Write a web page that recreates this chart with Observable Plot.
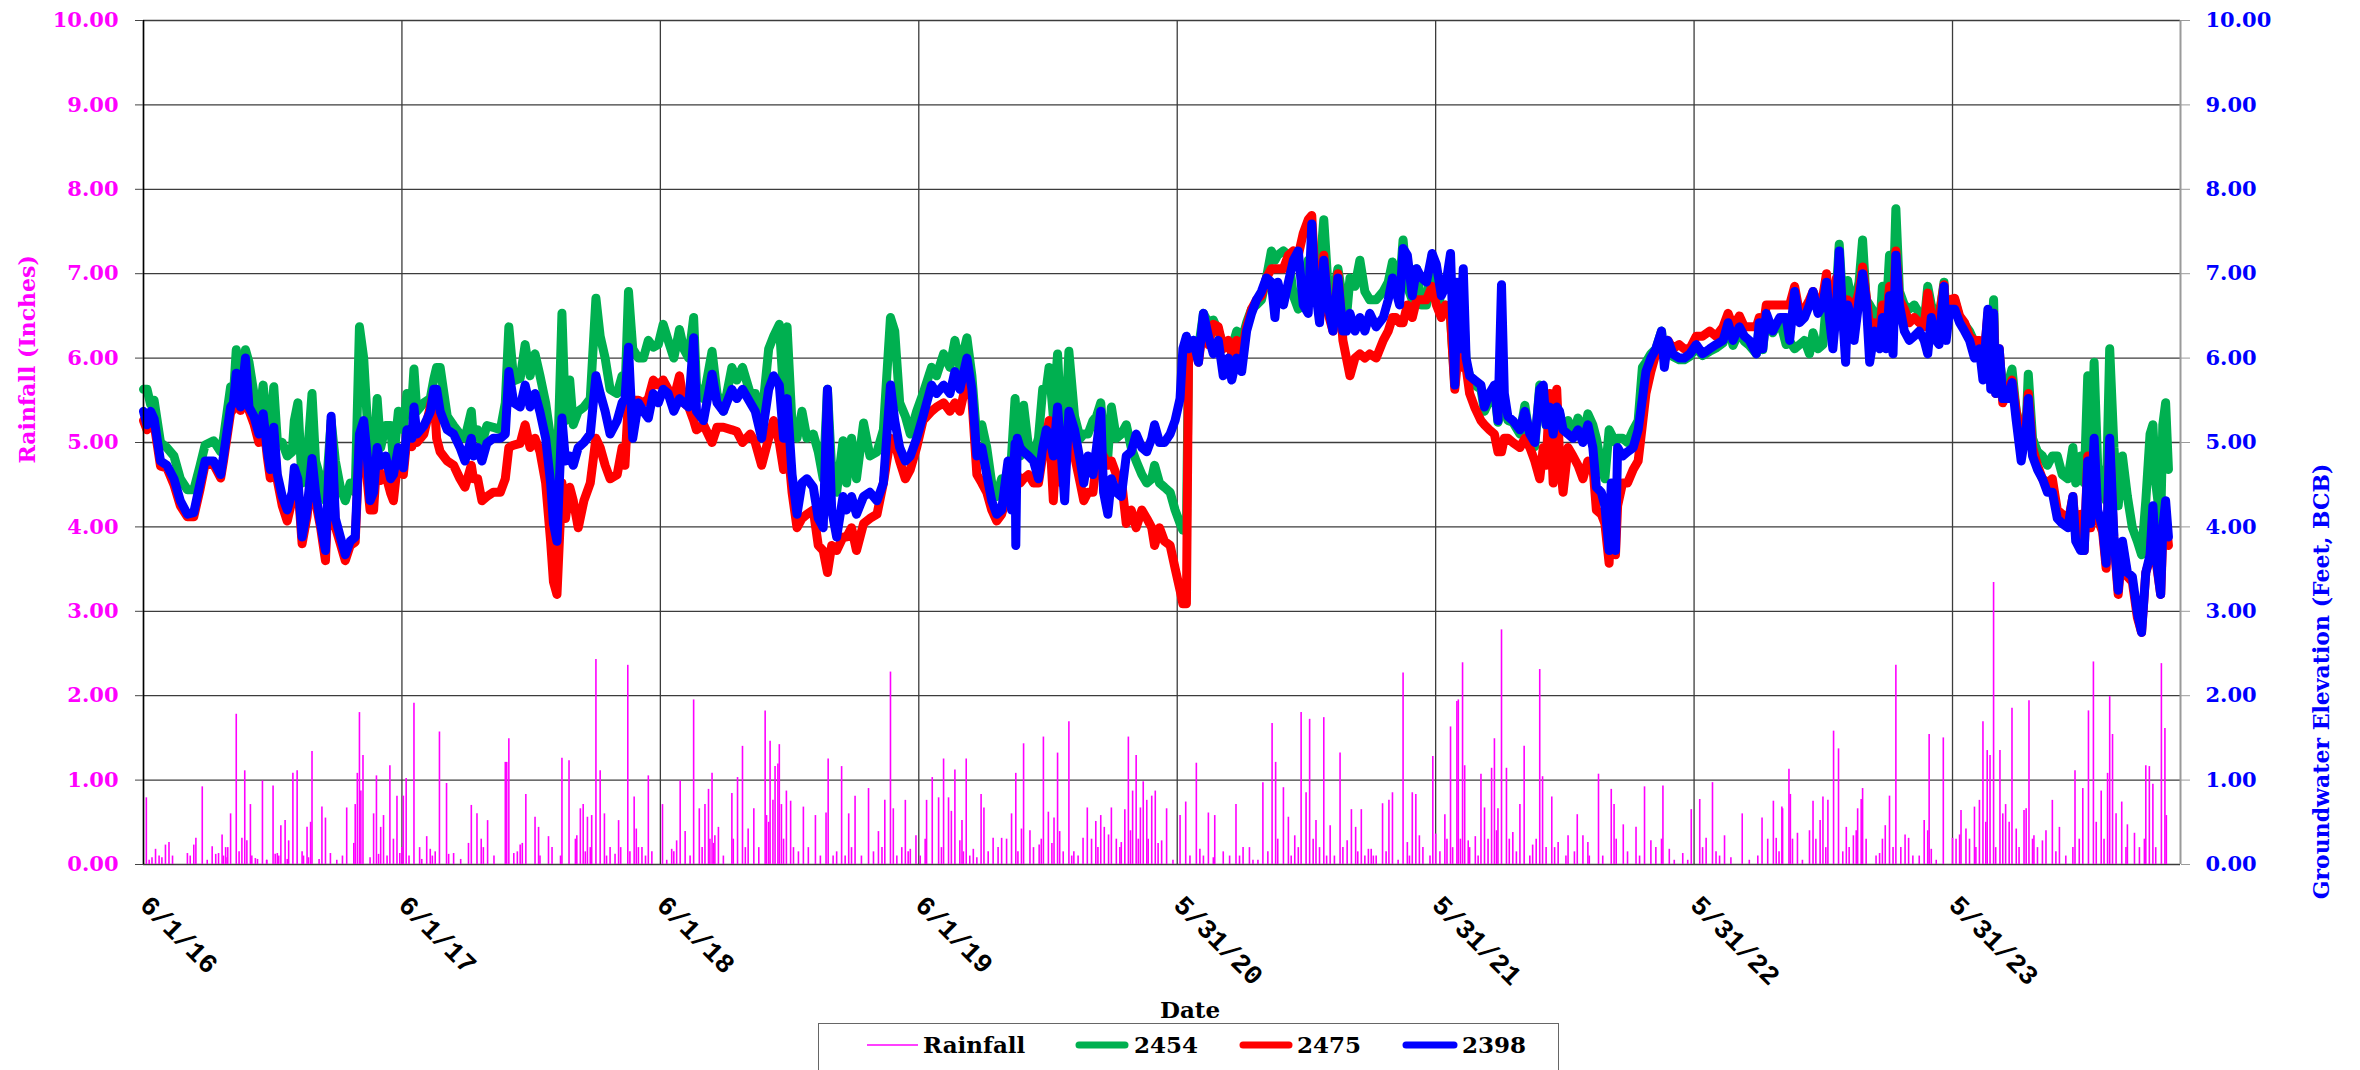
<!DOCTYPE html>
<html>
<head>
<meta charset="utf-8">
<script src="https://cdn.jsdelivr.net/npm/d3@7"></script>
<script src="https://cdn.jsdelivr.net/npm/@observablehq/plot@0.6"></script>
<style>
html,body{margin:0;padding:0;background:#fff;}
#wrap{position:relative;width:2360px;height:1070px;overflow:hidden;background:#fff;}
#chart{position:absolute;left:0;top:0;}
#xlabel{position:absolute;left:1130px;width:120px;top:998px;line-height:24px;text-align:center;font-family:"DejaVu Serif";font-weight:bold;font-size:23px;color:#000;}
#legend{position:absolute;left:818px;top:1023px;width:741px;height:50px;box-sizing:border-box;border:1.5px solid #666;background:#fff;}
#legend svg{position:absolute;left:0;top:0;}
#err{position:absolute;left:10px;top:10px;color:red;font:16px monospace;}
</style>
</head>
<body>
<div id="wrap">
  <div id="chart"></div>
  <div id="xlabel">Date</div>
  <div id="legend"></div>
  <div id="err"></div>
</div>
<script>
// ---------- DATA ----------
const startDate = "2016-06-01";           // day 0 of the record
const axisEndDay = 2877;                   // right edge of the date axis (days after start)
const xTickDays = [0, 365, 730, 1095, 1460, 1825, 2190, 2555];
const xTickLabels = ["6/1/16", "6/1/17", "6/1/18", "6/1/19", "5/31/20", "5/31/21", "5/31/22", "5/31/23"];
const yTicks = [0, 1, 2, 3, 4, 5, 6, 7, 8, 9, 10];

const seriesNames = ["2454", "2475", "2398"];
const seriesColors = ["#00b050", "#ff0000", "#0000ff"];

// groundwater sample days (days after startDate)
const gwDays = [
 0,5,10,15,24,33,43,52,62,71,80,87,99,109,113,123,127,131,137,144,149,156,163,169,175,179,184,189,196,203,210,213,218,224,231,238,243,250,257,265,271,278,285,292,299,305,311,316,320,325,330,335,342,349,353,360,367,372,379,382,386,396,405,410,414,419,429,438,447,454,463,466,472,478,485,494,504,511,516,523,532,539,546,553,560,568,575,579,
 584,591,596,602,607,614,622,631,639,645,652,659,669,676,680,685,691,699,706,713,720,727,734,741,749,757,763,770,777,781,791,803,810,819,831,838,846,857,864,873,883,890,898,904,909,916,923,930,937,946,953,960,966,972,979,988,993,1000,1007,1017,1026,1036,1045,1055,1061,1068,1076,1083,1092,1101,1113,1120,1130,1139,1146,1153,
 1163,1170,1177,1184,1191,1198,1205,1212,1221,1226,1231,1232,1234,1238,1243,1250,1257,1264,1270,1275,1279,1285,1291,1297,1301,1307,1315,1323,1328,1334,1341,1346,1352,1356,1362,1367,1374,1381,1388,1395,1402,1410,1417,1424,1428,1435,1442,1450,1457,1464,1468,1473,1476,1483,1490,1497,1504,1511,1518,1525,1532,1537,1544,1551,1558,1565,1572,1579,1586,1593,1598,1602,1610,1617,1624,1631,1638,1645,1650,1654,1661,1667,1673,1680,1687,1694,1699,1704,1711,1718,1725,1732,
 1741,1751,1758,1764,1769,1774,1779,1785,1792,1798,1805,1812,1820,1826,1833,1839,1846,1852,1855,1859,1864,1868,1873,1880,1889,1894,1901,1908,1913,1918,1922,1927,1934,1944,1951,1958,1965,1972,1977,1981,1986,1991,1996,2000,2005,2012,2019,2026,2033,2040,2047,2052,2059,2064,2070,2073,2079,2082,2089,2096,2104,2111,2117,2122,2129,2136,2144,2148,2153,2160,2169,2176,2184,2193,2202,2212,2221,2231,2238,2245,2254,2261,2268,2278,2282,2287,2292,2301,2311,
 2320,2325,2332,2339,2346,2353,2358,2365,2372,2377,2381,2386,2391,2395,2400,2404,2407,2412,2416,2423,2428,2433,2438,2445,2452,2456,2461,2466,2471,2475,2480,2487,2494,2501,2508,2515,2520,2525,2532,2536,2543,2546,2551,2558,2565,2572,2579,2586,2593,2598,2605,2609,2613,2616,2621,2626,2633,2639,2645,2652,2659,2662,2668,2675,2682,2689,2696,2703,2710,2718,2725,2729,2736,2741,2746,2750,2755,2760,2767,2772,2777,2783,2789,2795,2802,2809,2816,2822,2828,2834,2838,2842,2849,2852,2856,2860
];

// well 2454 (green)
const gw2454 = [
 5.63,5.63,5.45,5.50,5.00,4.94,4.84,4.57,4.44,4.44,4.73,4.97,5.02,4.89,5.05,5.66,5.55,6.10,5.50,6.10,5.95,5.58,5.26,5.68,5.15,5.10,5.66,5.02,5.00,4.84,4.89,5.26,5.47,4.52,4.78,5.58,4.78,4.57,4.31,5.26,4.78,4.47,4.31,4.52,4.41,6.37,6.00,5.26,4.73,4.78,5.52,4.94,5.20,5.20,4.78,5.37,5.15,5.58,5.47,5.87,5.37,5.47,5.52,5.75,5.89,5.89,5.31,5.20,5.10,5.05,5.37,5.05,5.15,4.99,5.20,5.18,5.15,5.47,6.37,5.73,5.76,6.16,5.79,6.05,5.79,5.47,5.05,4.78,
 4.52,6.53,5.26,5.74,5.21,5.37,5.42,5.52,6.71,6.26,6.00,5.63,5.58,5.79,5.58,6.79,6.11,6.00,6.00,6.21,6.13,6.16,6.40,6.21,6.00,6.34,6.11,6.00,6.48,5.68,5.52,6.08,5.58,5.37,5.89,5.74,5.89,5.58,5.58,5.26,6.11,6.26,6.40,5.58,6.37,5.21,5.05,5.37,5.05,5.10,4.89,4.57,5.63,4.68,4.41,5.02,4.52,5.05,4.57,5.23,4.84,4.89,5.15,6.48,6.32,5.47,5.31,5.10,5.37,5.58,5.89,5.79,6.05,5.89,6.21,5.89,
 6.24,5.79,5.05,5.21,4.94,4.52,4.36,4.57,4.52,4.84,5.52,5.40,5.10,4.84,5.44,4.94,4.84,5.05,5.63,5.63,5.89,5.31,6.05,5.05,4.94,6.08,5.31,5.05,5.10,5.10,5.26,5.31,5.47,5.05,4.84,5.42,5.05,5.10,5.21,4.94,4.78,4.62,4.52,4.57,4.73,4.52,4.47,4.41,4.20,4.04,3.96,3.96,6.11,6.21,6.11,6.53,6.42,6.45,6.32,6.16,6.16,6.11,6.32,6.21,6.42,6.58,6.63,6.69,6.95,7.27,7.16,7.22,7.27,7.22,6.74,6.58,6.90,7.16,7.16,7.16,7.00,7.64,6.85,6.74,7.06,6.69,6.48,6.95,6.85,7.16,6.79,6.69,
 6.69,6.79,6.90,7.14,6.90,6.85,7.40,6.85,6.69,7.06,6.63,6.63,7.22,7.06,6.53,6.63,6.48,5.68,6.11,5.95,6.63,5.95,5.79,5.68,5.63,5.37,5.50,5.63,5.24,5.40,5.50,5.26,5.24,5.10,5.44,5.05,4.95,5.68,5.60,5.20,5.40,5.08,5.42,5.35,5.15,5.26,5.10,5.29,5.05,5.34,5.21,5.05,4.73,4.57,5.15,5.10,5.00,5.05,5.05,5.00,5.15,5.26,5.89,5.95,6.05,6.11,6.32,6.00,6.16,6.02,5.98,5.98,6.02,6.12,6.03,6.08,6.12,6.18,6.40,6.15,6.32,6.20,6.15,6.05,6.38,6.10,6.50,6.30,6.45,
 6.16,6.20,6.11,6.16,6.21,6.05,6.30,6.11,6.16,6.69,6.53,6.37,6.79,7.35,6.63,6.74,6.92,6.69,6.63,6.90,7.40,6.69,6.63,6.53,6.32,6.85,6.48,7.22,6.63,7.77,6.79,6.63,6.58,6.63,6.53,6.42,6.85,6.63,6.48,6.48,6.90,6.42,6.63,6.69,6.48,6.40,6.32,6.19,6.16,5.84,6.48,5.95,6.69,5.68,6.05,5.63,5.68,5.87,5.37,5.15,5.21,5.81,5.05,4.89,4.84,4.73,4.84,4.84,4.62,4.57,4.94,4.52,4.84,4.52,5.79,4.52,5.95,4.73,4.41,4.31,6.11,4.94,4.25,4.84,4.36,3.99,3.83,3.67,4.31,5.10,5.21,4.52,4.04,5.21,5.47,4.68
];

// well 2475 (red)
const gw2475 = [
 5.26,5.15,5.30,5.22,4.72,4.70,4.50,4.25,4.12,4.12,4.45,4.74,4.74,4.58,4.78,5.35,5.40,5.70,5.38,5.90,5.38,5.22,5.00,5.28,4.82,4.58,5.10,4.55,4.25,4.07,4.32,4.62,4.50,3.80,4.12,4.72,4.30,4.00,3.60,5.20,4.00,3.80,3.60,3.78,3.82,5.00,5.20,4.55,4.20,4.20,4.85,4.55,4.62,4.40,4.31,4.85,4.62,5.05,4.95,5.35,5.00,5.10,5.42,5.60,5.05,4.89,4.78,4.73,4.57,4.47,4.73,4.57,4.57,4.31,4.36,4.41,4.41,4.57,4.94,4.97,4.99,5.21,4.94,5.05,4.89,4.52,3.83,3.35,
 3.20,4.52,4.10,4.47,4.31,3.99,4.31,4.52,5.05,4.94,4.73,4.57,4.62,4.94,4.73,5.52,5.50,5.50,5.47,5.52,5.74,5.68,5.74,5.63,5.52,5.79,5.47,5.42,5.26,5.15,5.21,5.00,5.18,5.18,5.15,5.13,5.00,5.10,5.00,4.73,5.05,5.26,5.00,4.68,5.05,4.41,3.99,4.10,4.15,4.20,3.78,3.72,3.46,3.78,3.72,3.88,3.88,3.99,3.72,4.04,4.10,4.15,4.52,5.05,5.00,4.78,4.57,4.68,4.94,5.26,5.37,5.42,5.47,5.37,5.47,5.37,
 5.74,5.52,4.62,4.52,4.41,4.20,4.07,4.15,4.41,4.36,4.62,4.62,4.62,4.52,4.57,4.62,4.52,4.52,4.84,5.05,5.26,4.31,5.15,4.52,4.57,5.26,4.84,4.52,4.31,4.41,4.41,4.78,4.84,4.84,4.73,4.78,4.62,4.57,4.04,4.20,3.99,4.20,4.10,3.99,3.78,3.99,3.83,3.78,3.51,3.25,3.09,3.09,6.00,6.16,5.95,6.42,6.16,6.40,6.37,6.11,6.21,6.05,6.21,6.05,6.37,6.58,6.69,6.74,6.95,7.06,7.06,7.06,7.06,7.22,7.27,7.22,7.48,7.64,7.69,7.06,6.53,7.22,6.53,6.32,7.00,6.21,6.00,5.79,6.00,6.05,6.00,6.05,
 6.00,6.21,6.32,6.48,6.48,6.42,6.42,6.63,6.48,6.69,6.69,6.69,6.85,6.63,6.48,6.63,6.48,5.63,5.89,5.89,6.21,5.89,5.58,5.42,5.26,5.21,5.15,5.10,4.89,4.89,5.05,5.05,5.00,4.94,5.05,4.94,4.78,4.57,4.94,4.73,5.58,4.52,5.63,4.84,4.41,4.94,4.84,4.73,4.57,4.78,4.73,4.20,4.15,4.04,3.57,4.30,3.67,4.25,4.52,4.52,4.68,4.78,5.21,5.58,5.84,6.05,6.21,6.00,6.21,6.11,6.16,6.11,6.11,6.26,6.26,6.32,6.26,6.37,6.53,6.37,6.50,6.37,6.37,6.37,6.48,6.32,6.63,6.63,6.63,
 6.63,6.63,6.85,6.53,6.58,6.69,6.79,6.63,6.74,7.00,6.55,6.63,6.95,7.00,6.63,6.37,6.69,6.63,6.58,6.79,7.08,6.74,6.37,6.42,6.32,6.63,6.37,6.85,6.53,7.27,6.69,6.58,6.42,6.48,6.42,6.37,6.77,6.53,6.37,6.48,6.87,6.48,6.69,6.71,6.50,6.42,6.26,6.21,6.21,5.89,6.53,5.84,6.53,5.58,6.11,5.47,5.63,5.74,5.37,5.05,5.21,5.58,4.94,4.73,4.57,4.52,4.57,4.20,4.15,4.04,4.36,3.94,4.15,3.72,4.84,3.99,4.94,4.10,3.94,3.51,4.94,3.83,3.20,3.78,3.41,3.35,2.93,2.75,3.46,3.62,4.15,3.62,3.20,3.88,4.10,3.78
];

// well 2398 (blue)
const gw2398 = [
 5.37,5.21,5.37,5.28,4.78,4.73,4.57,4.31,4.15,4.17,4.52,4.78,4.78,4.62,4.84,5.42,5.47,5.82,5.42,6.00,5.42,5.31,5.10,5.34,4.89,4.68,5.18,4.62,4.36,4.20,4.41,4.70,4.57,3.88,4.20,4.81,4.41,4.04,3.72,5.31,4.10,3.88,3.67,3.83,3.88,5.10,5.26,4.84,4.31,4.41,4.94,4.73,4.84,4.57,4.62,4.94,4.70,5.15,5.05,5.42,5.10,5.20,5.36,5.63,5.63,5.37,5.15,5.10,4.94,4.78,5.05,4.84,4.94,4.78,4.99,5.05,5.05,5.10,5.84,5.47,5.42,5.68,5.42,5.58,5.36,5.05,4.52,4.04,
 3.83,5.29,4.78,4.84,4.73,4.94,5.00,5.10,5.79,5.58,5.37,5.10,5.26,5.47,5.52,6.13,5.05,5.47,5.37,5.29,5.58,5.47,5.63,5.58,5.37,5.52,5.47,5.42,6.24,5.37,5.26,5.81,5.47,5.37,5.63,5.52,5.63,5.47,5.37,5.05,5.63,5.79,5.68,5.05,5.52,4.62,4.15,4.52,4.57,4.47,4.10,3.99,5.63,4.20,3.88,4.36,4.20,4.36,4.15,4.36,4.41,4.31,4.52,5.68,5.26,4.94,4.78,4.84,5.05,5.31,5.68,5.58,5.68,5.58,5.84,5.63,
 6.00,5.63,4.84,4.94,4.62,4.31,4.15,4.20,4.78,4.20,4.99,3.78,5.05,4.94,4.89,4.84,4.78,4.57,4.94,5.15,5.10,4.84,5.42,4.78,4.31,5.37,5.15,4.78,4.52,4.84,4.62,4.94,5.37,4.41,4.15,4.57,4.41,4.36,4.84,4.89,5.10,4.94,4.89,5.05,5.21,5.00,5.00,5.10,5.26,5.52,6.11,6.26,6.11,6.21,5.95,6.53,6.26,6.05,6.21,5.79,6.00,5.74,6.00,5.84,6.32,6.53,6.69,6.79,6.95,6.90,6.48,6.90,6.63,6.90,7.16,7.27,6.63,6.53,7.59,6.90,6.42,7.16,6.63,6.32,6.95,6.32,6.32,6.53,6.32,6.48,6.32,6.53,
 6.37,6.48,6.69,6.95,6.79,6.63,7.30,7.22,6.74,7.06,6.95,6.90,7.24,7.11,6.74,6.85,7.24,5.68,6.90,6.11,7.06,6.00,5.79,5.74,5.68,5.42,5.58,5.68,5.26,6.87,5.58,5.31,5.26,5.15,5.37,5.10,5.00,5.63,5.68,5.21,5.42,5.10,5.42,5.37,5.15,5.10,5.05,5.15,5.00,5.21,4.94,4.47,4.41,4.25,3.72,4.52,3.72,4.94,4.84,4.89,4.94,5.15,5.52,5.84,6.00,6.11,6.32,5.89,6.21,6.05,6.00,6.00,6.05,6.16,6.05,6.11,6.16,6.21,6.42,6.21,6.37,6.26,6.21,6.05,6.42,6.11,6.53,6.32,6.48,
 6.48,6.21,6.79,6.42,6.48,6.63,6.79,6.53,6.63,6.90,6.48,6.11,6.58,7.27,6.48,5.95,6.63,6.48,6.21,6.69,7.00,6.69,5.95,6.32,6.11,6.48,6.11,6.74,6.05,7.22,6.63,6.32,6.21,6.26,6.32,6.21,6.05,6.48,6.21,6.16,6.85,6.21,6.58,6.58,6.42,6.32,6.21,6.00,6.11,5.74,6.58,5.63,6.53,5.58,6.11,5.52,5.52,5.71,5.26,4.78,5.15,5.52,4.84,4.68,4.57,4.41,4.41,4.10,4.04,3.99,4.36,3.83,3.72,3.72,4.78,4.04,5.05,4.20,3.99,3.57,5.05,3.88,3.25,3.83,3.46,3.41,2.98,2.75,3.46,3.67,4.25,3.67,3.20,3.99,4.31,3.88
];

// daily rainfall events (days after startDate, inches)
const rainDays = [
 4,17,31,36,62,71,74,83,97,106,111,116,119,123,131,139,143,146,151,158,168,174,183,189,194,200,205,211,217,224,231,236,238,252,257,264,287,299,302,305,307,310,325,329,335,339,348,353,358,362,367,371,382,390,400,405,412,418,428,438,463,471,477,486,511,513,516,523,532,540,553,558,572,
 591,601,612,617,621,627,633,639,645,651,659,671,674,684,693,696,704,713,733,746,753,758,765,777,785,793,798,803,807,812,831,839,846,854,862,878,880,885,889,892,896,898,901,908,914,932,949,964,967,979,986,996,1005,1024,1038,1047,1055,1059,1076,1083,1091,1106,1114,1123,1130,1137,1141,1146,1153,
 1156,1162,1172,1183,1187,1200,1212,1226,1232,1240,1243,1252,1265,1271,1278,1286,1291,1294,1307,1314,1327,1333,1345,1352,1357,1367,1381,1386,1391,1397,1402,1408,1412,1417,1424,1429,1438,1445,1464,1472,1487,1492,1504,1513,1525,1543,1553,1562,1581,1588,1594,1599,1610,1617,1626,1635,1642,1647,1656,1667,1676,1690,1700,1706,1712,1720,1730,
 1734,1750,1759,1764,1779,1785,1792,1797,1802,1821,1825,1838,1846,1855,1857,1863,1866,1871,1881,1889,1894,1904,1908,1913,1918,1925,1934,1944,1950,1962,1972,1976,1989,1998,2012,2025,2033,2040,2055,2073,2077,2090,2108,2120,2129,2146,2155,2174,2186,2198,2207,2216,2221,2233,2258,2286,2302,2306,2315,
 2314,2324,2326,2336,2353,2358,2368,2372,2379,2387,2394,2405,2415,2421,2426,2428,2452,2460,2466,2475,2488,2493,2515,2522,2525,2542,2555,2567,2574,2586,2593,2598,2604,2608,2613,2622,2630,2639,2645,2656,2659,2663,2670,2682,2696,2706,2728,2739,2747,2754,2765,2774,2777,2781,2794,2802,2812,2828,2833,2838,2850,2855,2857
];
const rainInches = [
 0.79,0.18,0.23,0.26,0.13,0.23,0.31,0.92,0.21,0.13,0.35,0.2,0.2,0.6,1.78,0.31,1.11,0.28,0.71,0.07,0.99,0.05,0.93,0.13,0.46,0.52,0.28,1.08,1.11,0.15,0.44,0.5,1.34,0.68,0.55,0.13,0.67,0.71,1.08,1.80,0.87,1.29,0.6,1.05,0.44,0.58,1.17,0.3,0.81,0.13,0.81,1.02,1.91,0.2,0.33,0.18,0.15,1.57,0.96,0.13,0.7,0.6,0.3,0.52,1.21,1.21,1.49,0.13,0.23,0.83,0.56,0.44,0.33,
 1.26,1.23,0.34,0.66,0.71,0.56,0.58,2.43,1.11,0.6,0.2,0.52,0.2,2.36,0.8,0.42,0.2,1.05,0.71,0.18,0.28,0.99,0.39,1.95,0.66,0.71,0.89,1.08,0.34,0.44,0.84,1.03,1.40,0.42,0.66,1.82,0.58,1.46,0.76,1.16,1.19,1.42,0.71,0.87,0.75,0.68,0.58,0.61,1.25,0.15,1.16,0.6,0.81,0.9,0.39,0.76,2.28,0.66,0.76,0.18,0.34,0.76,1.03,0.79,1.25,0.79,0.63,1.12,0.28,
 0.52,1.25,0.18,0.83,0.67,0.31,0.31,0.6,1.08,0.42,1.43,0.40,0.23,1.51,0.62,0.55,1.32,0.39,1.69,0.15,0.31,0.67,0.51,0.58,0.44,0.67,0.26,0.65,1.51,0.87,1.29,0.67,0.98,0.76,0.81,0.87,0.28,0.66,0.58,0.74,1.2,0.18,0.61,0.58,0.15,0.71,0.2,0.2,0.97,0.15,1.67,1.21,0.91,0.56,0.34,1.80,0.85,1.72,0.52,1.74,0.46,1.32,0.28,0.65,0.44,0.65,0.18,
 0.18,0.72,0.76,0.85,2.27,0.26,0.85,0.83,0.34,1.28,0.36,0.59,1.63,1.93,1.95,2.39,1.17,0.28,0.33,1.07,0.67,1.14,1.49,0.66,2.78,1.14,0.38,0.71,1.40,0.23,2.31,1.04,0.8,0.26,0.34,0.59,0.34,0.26,1.07,0.89,0.71,0.47,0.44,0.92,0.28,0.93,0.18,0.13,0.65,0.77,0.31,0.97,0.15,0.34,0.6,0.55,0.75,0.31,0.66,
 0.68,1.13,0.83,0.37,0.4,0.75,0.52,0.8,0.76,1.58,1.37,0.44,0.34,0.66,0.77,0.9,0.13,0.46,0.81,2.36,0.35,0.31,0.52,1.54,0.18,1.50,0.31,0.64,0.42,0.68,0.76,1.69,1.35,1.29,3.34,1.35,0.71,1.85,0.42,0.64,0.66,1.94,0.34,0.28,0.76,0.44,1.11,0.9,1.82,2.40,0.87,1.08,1.99,1.54,0.74,0.47,0.37,1.17,1.16,0.95,2.38,1.61,0.58
];
// lighter rain days (small bars near the baseline)
const lightRainDays = [
 8,12,22,26,41,66,90,102,113,118,135,153,161,174,186,191,203,226,233,248,273,281,297,320,332,344,365,375,393,408,431,448,459,480,495,528,535,560,577,
 589,610,624,631,654,666,687,699,709,718,739,749,772,789,800,805,819,833,850,869,883,904,918,925,939,956,974,991,1000,1014,1031,1043,1064,1071,1080,1097,1104,1127,1158,
 1167,1177,1193,1207,1219,1235,1257,1268,1283,1299,1311,1320,1339,1348,1363,1374,1379,1394,1405,1419,1433,1454,1478,1497,1511,1534,1548,1567,1574,1602,1621,1631,1652,1661,1671,1682,1694,1715,1725,1737,
 1741,1755,1772,1788,1807,1817,1831,1841,1849,1860,1873,1885,1899,1911,1929,1939,1958,1967,1981,1993,2009,2021,2042,2061,2080,2096,2113,2136,2144,2162,2181,2202,2226,2242,2268,2280,2294,2310,
 2329,2343,2362,2376,2400,2409,2419,2433,2447,2456,2471,2482,2499,2508,2520,2532,2560,2565,2579,2588,2602,2616,2626,2635,2649,2668,2675,2687,2701,2715,2725,2734,2758,2769,2786,2800,2819,2826,2842
];
const lightRainInches = [
 0.05,0.08,0.1,0.08,0.1,0.1,0.05,0.12,0.1,0.08,0.15,0.1,0.06,0.05,0.12,0.1,0.06,0.1,0.08,0.06,0.05,0.1,0.25,0.08,0.12,0.1,0.2,0.1,0.06,0.1,0.12,0.06,0.25,0.2,0.1,0.15,0.25,0.1,0.2,
 0.1,0.3,0.15,0.2,0.1,0.12,0.15,0.2,0.1,0.15,0.05,0.15,0.1,0.2,0.3,0.25,0.1,0.3,0.2,0.2,0.5,0.3,0.2,0.15,0.2,0.1,0.1,0.1,0.2,0.1,0.15,0.2,0.1,0.2,0.15,0.1,0.3,0.2,0.15,
 0.1,0.08,0.15,0.2,0.3,0.15,0.2,0.3,0.25,0.15,0.1,0.1,0.3,0.2,0.35,0.3,0.2,0.4,0.3,0.3,0.25,0.05,0.1,0.1,0.08,0.1,0.1,0.05,0.05,0.3,0.1,0.2,0.3,0.2,0.1,0.1,0.2,0.15,0.1,0.1,
 0.1,0.15,0.05,0.1,0.2,0.1,0.15,0.3,0.2,0.3,0.2,0.1,0.3,0.4,0.3,0.15,0.1,0.3,0.2,0.2,0.1,0.15,0.1,0.1,0.3,0.15,0.1,0.2,0.3,0.05,0.05,0.2,0.1,0.08,0.05,0.1,0.3,0.15,
 0.3,0.05,0.3,0.2,0.15,0.2,0.4,0.3,0.1,0.3,0.2,0.2,0.1,0.1,0.4,0.05,0.3,0.35,0.3,0.2,0.5,0.2,0.6,0.5,0.2,0.3,0.2,0.4,0.15,0.1,0.2,0.3,0.5,0.3,0.6,0.2,0.2,0.3,0.2
];

// ---------- BUILD ----------
const START = Date.parse(startDate + "T00:00:00Z");
const toDate = d => new Date(START + d * 864e5);

const errs = [];
[gw2454, gw2475, gw2398].forEach((a, i) => { if (a.length !== gwDays.length) errs.push(seriesNames[i] + ": " + a.length + " vs " + gwDays.length); });
if (rainDays.length !== rainInches.length) errs.push("rain: " + rainDays.length + " vs " + rainInches.length);
if (lightRainDays.length !== lightRainInches.length) errs.push("light rain: " + lightRainDays.length + " vs " + lightRainInches.length);
document.getElementById("err").textContent = errs.join(" | ");

const seriesValues = [gw2454, gw2475, gw2398];
const lineData = seriesValues.map(vals => gwDays.map((d, i) => ({date: toDate(d), v: vals[i]})));
const rainData = rainDays.map((d, i) => ({date: toDate(d), v: rainInches[i]}))
  .concat(lightRainDays.map((d, i) => ({date: toDate(d), v: lightRainInches[i]})));
const xTicks = xTickDays.map((d, i) => ({date: toDate(d), label: xTickLabels[i]}));

const tickFont = {fontFamily: "DejaVu Serif", fontWeight: "bold", fontSize: 21};

const chart = Plot.plot({
  width: 2360,
  height: 998,
  marginLeft: 143,
  marginRight: 180,
  marginTop: 20,
  marginBottom: 134,
  style: {background: "#fff", overflow: "visible"},
  x: {type: "utc", domain: [toDate(0), toDate(axisEndDay)], axis: null},
  y: {domain: [0, 10]},
  marks: [
    Plot.ruleY(yTicks, {y: d => d, stroke: "#3c3c3c", strokeWidth: 1.3}),
    Plot.ruleX(xTicks, {x: "date", stroke: "#3c3c3c", strokeWidth: 1.3}),
    Plot.ruleX(rainData, {x: "date", y1: 0, y2: "v", stroke: "#ff00ff", strokeWidth: 1.6}),
    ...lineData.map((data, i) => Plot.line(data, {x: "date", y: "v", stroke: seriesColors[i], strokeWidth: 9, strokeLinejoin: "round", strokeLinecap: "round"})),
    Plot.ruleX([toDate(0)], {stroke: "#000", strokeWidth: 1.5}),
    Plot.ruleX([toDate(axisEndDay)], {stroke: "#9a9a9a", strokeWidth: 2}),
    Plot.axisY({anchor: "left", ticks: yTicks, tickSize: 8, tickFormat: () => "", label: null, stroke: "#444"}),
    Plot.axisY({anchor: "right", ticks: yTicks, tickSize: 9, tickFormat: () => "", label: null, stroke: "#9a9a9a"}),
    Plot.text(yTicks, {y: d => d, frameAnchor: "left", dx: -25, textAnchor: "end", text: d => d.toFixed(2), fill: "#ff00ff", ...tickFont}),
    Plot.text(yTicks, {y: d => d, frameAnchor: "right", dx: 25, textAnchor: "start", text: d => d.toFixed(2), fill: "#0000ff", ...tickFont}),
    Plot.text(xTicks, {x: "date", frameAnchor: "bottom", dx: -5, dy: 42, rotate: 45, textAnchor: "start", lineAnchor: "bottom", text: "label", fill: "#000", fontFamily: "Liberation Mono", fontWeight: "bold", fontSize: 27}),
    Plot.text(["Rainfall (Inches)"], {frameAnchor: "left", dx: -116, dy: 21, rotate: -90, text: d => d, fill: "#ff00ff", fontFamily: "DejaVu Serif", fontWeight: "bold", fontSize: 22}),
    Plot.text(["Groundwater Elevation (Feet, BCB)"], {frameAnchor: "right", dx: 141, dy: 21, rotate: -90, text: d => d, fill: "#0000ff", fontFamily: "DejaVu Serif", fontWeight: "bold", fontSize: 22})
  ]
});
document.getElementById("chart").appendChild(chart);

// ---------- LEGEND ----------
const legendItems = [
  {label: "Rainfall", color: "#ff00ff", width: 1.6, x1: 48, x2: 99, tx: 104},
  {label: seriesNames[0], color: seriesColors[0], width: 7, x1: 260, x2: 306, tx: 315},
  {label: seriesNames[1], color: seriesColors[1], width: 7, x1: 424, x2: 470, tx: 478},
  {label: seriesNames[2], color: seriesColors[2], width: 7, x1: 587, x2: 635, tx: 643}
];
const ns = "http://www.w3.org/2000/svg";
const lsvg = document.createElementNS(ns, "svg");
lsvg.setAttribute("width", 741); lsvg.setAttribute("height", 50);
legendItems.forEach(it => {
  const ln = document.createElementNS(ns, "line");
  ln.setAttribute("x1", it.x1); ln.setAttribute("x2", it.x2);
  ln.setAttribute("y1", 21); ln.setAttribute("y2", 21);
  ln.setAttribute("stroke", it.color); ln.setAttribute("stroke-width", it.width);
  ln.setAttribute("stroke-linecap", it.width > 2 ? "round" : "butt");
  lsvg.appendChild(ln);
  const t = document.createElementNS(ns, "text");
  t.setAttribute("x", it.tx); t.setAttribute("y", 29);
  t.setAttribute("font-family", "DejaVu Serif"); t.setAttribute("font-weight", "bold");
  t.setAttribute("font-size", 23); t.setAttribute("fill", "#000");
  t.textContent = it.label;
  lsvg.appendChild(t);
});
document.getElementById("legend").appendChild(lsvg);
</script>
</body>
</html>
